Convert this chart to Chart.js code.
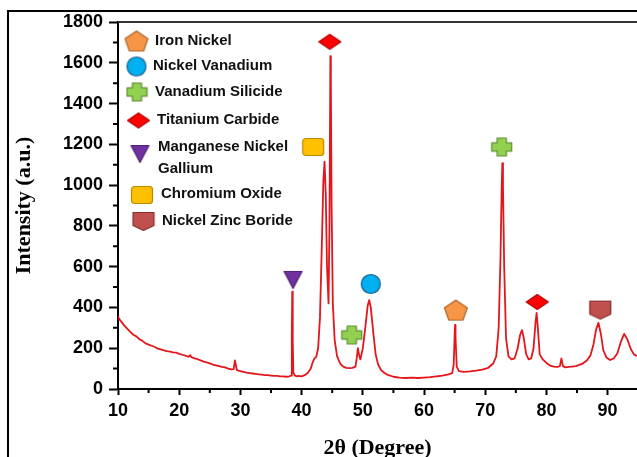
<!DOCTYPE html>
<html lang="en">
<head>
<meta charset="UTF-8">
<title>XRD pattern</title>
<script src="https://cdn.jsdelivr.net/npm/chart.js"></script>
<style>
  html, body { margin: 0; padding: 0; background: #fff; overflow: hidden; }
  #wrap { position: relative; width: 637px; height: 457px; }
  #frame { position: absolute; left: 7px; top: 10px; width: 640px; height: 460px;
           border-left: 2px solid #000; border-top: 2px solid #000; }
  #chart { position: absolute; left: 0; top: 0; }
</style>
</head>
<body>
<div id="wrap">
  <div id="frame"></div>
  <canvas id="chart" width="637" height="457"></canvas>
</div>
<script>
// 2theta positions (degrees) and intensities
const twoTheta = [10, 10.3, 10.6, 11, 11.5, 12, 12.5, 13, 13.5, 14, 14.5, 15, 15.5, 16, 16.5, 17, 17.5, 18, 18.5, 19, 19.5, 20,
  20.5, 21, 21.5, 21.8, 22, 22.5, 23, 23.5, 24, 24.5, 25, 25.5, 26, 26.5, 27, 27.5, 28, 28.5, 28.9, 29.1, 29.2, 29.4, 29.7,
  30, 30.5, 31, 31.5, 32, 32.5, 33, 33.5, 34, 34.5, 35, 35.5, 36, 36.5, 37, 37.5, 38, 38.3, 38.4, 38.47, 38.55, 38.65,
  38.9, 39.2, 39.5, 40, 40.5, 41, 41.5, 41.8, 42.1, 42.4, 42.7, 43, 43.3, 43.55, 43.75, 43.95, 44.15, 44.4, 44.55, 44.7,
  44.78, 44.9, 45.1, 45.4, 45.8, 46.3, 46.8, 47.3, 47.8, 48.3, 48.8, 49.0, 49.2, 49.4, 49.6, 50.0, 50.4, 50.8, 51.05,
  51.3, 51.7, 52.1, 52.5, 53, 53.5, 54, 55, 56, 57, 58, 59, 60, 61, 62, 63, 64, 64.6, 64.85, 65.0, 65.07, 65.15, 65.35,
  65.7, 66.5, 67.5, 68.5, 69.5, 70.5, 71.3, 71.8, 72.2, 72.5, 72.7, 72.8, 72.9, 73.1, 73.4, 73.8, 74.3, 74.8, 75.3,
  75.7, 76.0, 76.3, 76.7, 77.1, 77.5, 77.9, 78.2, 78.4, 78.6, 78.9, 79.4, 80, 80.6, 81.2, 81.8, 82.2, 82.45, 82.7,
  83.1, 83.6, 84.2, 84.8, 85.4, 86, 86.6, 87.2, 87.7, 88.1, 88.5, 88.9, 89.3, 89.8, 90.4, 91, 91.6, 92.2, 92.7, 93.2,
  93.8, 94.3, 94.8];
const intensity = [355, 340, 328, 312, 296, 280, 266, 258, 244, 236, 224, 218, 212, 206, 198, 194, 190, 186, 183, 180, 178, 172,
  168, 164, 158, 166, 156, 150, 146, 140, 134, 130, 126, 120, 116, 112, 108, 106, 100, 96, 98, 140, 128, 94, 90,
  88, 84, 80, 78, 76, 74, 72, 70, 68, 68, 66, 64, 64, 62, 62, 60, 62, 66, 260, 477, 240, 80,
  66, 62, 64, 62, 68, 78, 100, 130, 150, 158, 200, 350, 700, 1020, 1115, 950, 600, 420, 800, 1633,
  1500, 900, 420, 240, 160, 125, 110, 104, 102, 104, 110, 150, 200, 165, 145, 200, 300, 410, 436,
  400, 280, 170, 120, 92, 80, 70, 60, 56, 54, 56, 54, 56, 58, 62, 66, 72, 78, 120, 260, 314, 250, 110,
  88, 84, 86, 90, 95, 104, 125, 160, 300, 650, 1000, 1108, 1000, 600, 250, 160, 145, 150, 200,
  265, 289, 250, 170, 145, 150, 200, 320, 373, 300, 170, 145, 128, 115, 110, 108, 112, 150, 112,
  106, 108, 110, 112, 118, 126, 140, 165, 220, 290, 325, 270, 190, 155, 142, 150, 175, 235, 270, 245,
  195, 170, 162];

// phases (legend order)
const phaseNames = [['Iron Nickel'], ['Nickel Vanadium'], ['Vanadium Silicide'], ['Titanium Carbide'],
  ['Manganese Nickel', 'Gallium'], ['Chromium Oxide'], ['Nickel Zinc Boride']];

// peak markers: position and which phase
const peakX = [44.6, 41.9, 72.7, 38.6, 48.2, 51.3, 65.2, 78.5, 88.8];
const peakY = [1703, 1187, 1187, 535, 265, 515, 387, 427, 387];
const peakPhase = [3, 5, 2, 4, 2, 1, 0, 3, 6];

function makeMarker(kind, fill, stroke, w, h) {
  const c = document.createElement('canvas');
  c.width = w + 3; c.height = h + 3;
  const g = c.getContext('2d');
  g.translate(1.5, 1.5);
  g.fillStyle = fill; g.strokeStyle = stroke; g.lineWidth = 1.2; g.lineJoin = 'round';
  g.beginPath();
  if (kind === 'pentagon') {
    const r = h / 1.809;
    for (let k = 0; k < 5; k++) {
      const a = -Math.PI / 2 + k * 2 * Math.PI / 5;
      const px = w / 2 + (w / 1.902) * Math.cos(a), py = r + r * Math.sin(a);
      k ? g.lineTo(px, py) : g.moveTo(px, py);
    }
    g.closePath();
  } else if (kind === 'circle') {
    g.arc(w / 2, h / 2, Math.min(w, h) / 2, 0, Math.PI * 2);
  } else if (kind === 'cross') {
    const a = w * 0.27, b = h * 0.27;
    g.moveTo(a, 0); g.lineTo(w - a, 0); g.lineTo(w - a, b); g.lineTo(w, b); g.lineTo(w, h - b);
    g.lineTo(w - a, h - b); g.lineTo(w - a, h); g.lineTo(a, h); g.lineTo(a, h - b); g.lineTo(0, h - b);
    g.lineTo(0, b); g.lineTo(a, b); g.closePath();
  } else if (kind === 'diamond') {
    g.moveTo(w / 2, 0); g.lineTo(w, h / 2); g.lineTo(w / 2, h); g.lineTo(0, h / 2); g.closePath();
  } else if (kind === 'triangle') {
    g.moveTo(0, 0); g.lineTo(w, 0); g.lineTo(w / 2, h); g.closePath();
  } else if (kind === 'square') {
    g.roundRect(0, 0, w, h, 3);
  } else if (kind === 'shield') {
    g.moveTo(0, 0); g.lineTo(w, 0); g.lineTo(w, h * 0.72); g.lineTo(w / 2, h); g.lineTo(0, h * 0.72); g.closePath();
  }
  g.fill(); g.stroke();
  return c;
}

const markers = [
  makeMarker('pentagon', '#f79646', '#a8642c', 23, 20),
  makeMarker('circle', '#00b0f0', '#1d5c8a', 19, 19),
  makeMarker('cross', '#92d050', '#5e8f35', 20, 18),
  makeMarker('diamond', '#ff0000', '#b00000', 22, 15),
  makeMarker('triangle', '#7030a0', '#4f1f75', 18, 17),
  makeMarker('square', '#ffc000', '#b88a00', 21, 17),
  makeMarker('shield', '#c0504d', '#84302d', 21, 18)
];

// legend placement relative to the plot's top-left corner
const legendRows = [
  { mx: 18.5, my: 19, tx: 37, ty: [19] },
  { mx: 18.5, my: 44.5, tx: 35, ty: [44] },
  { mx: 19, my: 70, tx: 37, ty: [69.5] },
  { mx: 20.5, my: 98.5, tx: 39, ty: [98] },
  { mx: 22, my: 132, tx: 40, ty: [125, 146.5] },
  { mx: 24, my: 173, tx: 43, ty: [172] },
  { mx: 25.5, my: 199.5, tx: 44, ty: [199] }
];

const extras = {
  id: 'extras',
  afterDraw(chart) {
    const { ctx, chartArea: a, scales: { x, y } } = chart;
    ctx.save();
    ctx.strokeStyle = '#000';
    ctx.lineWidth = 2;
    ctx.beginPath();
    for (let v = 15; v < x.max; v += 10) {
      const px = x.getPixelForValue(v);
      ctx.moveTo(px, a.bottom); ctx.lineTo(px, a.bottom + 4);
    }
    for (let v = 100; v < y.max; v += 200) {
      const py = y.getPixelForValue(v);
      ctx.moveTo(a.left, py); ctx.lineTo(a.left - 5, py);
    }
    ctx.stroke();
    ctx.strokeStyle = '#333';
    ctx.beginPath(); ctx.moveTo(a.left, a.top); ctx.lineTo(a.right, a.top); ctx.stroke();

    // legend
    ctx.fillStyle = '#111';
    ctx.font = "bold 15px 'Liberation Sans', Arial, sans-serif";
    ctx.textBaseline = 'middle';
    ctx.textAlign = 'left';
    legendRows.forEach((r, i) => {
      const m = markers[i];
      ctx.drawImage(m, a.left + r.mx - m.width / 2, a.top + r.my - m.height / 2);
      phaseNames[i].forEach((t, j) => ctx.fillText(t, a.left + r.tx, a.top + r.ty[j]));
    });
    ctx.restore();
  }
};

const tickFont = { family: "'Liberation Sans', Arial, sans-serif", weight: 'bold', size: 18 };
const titleFont = { family: "'Liberation Serif', 'Times New Roman', serif", weight: 'bold', size: 22, lineHeight: 1 };

new Chart(document.getElementById('chart'), {
  type: 'scatter',
  data: {
    datasets: [{
      label: 'XRD',
      data: twoTheta.map((t, i) => ({ x: t, y: intensity[i] })),
      showLine: true,
      borderColor: '#e3161c',
      borderWidth: 1.8,
      pointRadius: 0,
      borderJoinStyle: 'round'
    }, {
      label: 'peaks',
      data: peakX.map((t, i) => ({ x: t, y: peakY[i] })),
      pointRadius: 10,
      pointStyle: ctx => markers[peakPhase[ctx.dataIndex]]
    }]
  },
  options: {
    responsive: false,
    animation: false,
    layout: { autoPadding: false, padding: { top: 22, left: 0, right: 0, bottom: 0 } },
    plugins: { legend: { display: false }, tooltip: { enabled: false } },
    scales: {
      x: {
        type: 'linear', min: 10, max: 94.8,
        ticks: { stepSize: 10, includeBounds: false, padding: 5, color: '#000', font: tickFont },
        grid: { drawOnChartArea: false, tickLength: 6, tickWidth: 2, tickColor: '#000' },
        border: { color: '#000', width: 2 },
        title: { display: true, text: '2θ (Degree)', color: '#000', font: titleFont, padding: { top: 0, bottom: -2 } },
        afterFit(s) { s.height = 68; s.paddingLeft = 0; s.paddingRight = 0; }
      },
      y: {
        min: 0, max: 1800,
        ticks: { stepSize: 200, padding: 6, color: '#000', font: tickFont, callback: v => String(v) },
        grid: { drawOnChartArea: false, tickLength: 9, tickWidth: 2, tickColor: '#000' },
        border: { color: '#000', width: 2 },
        title: { display: true, text: 'Intensity (a.u.)', color: '#000', font: titleFont, padding: { top: 13, bottom: 0 } },
        afterFit(s) { s.width = 118; s.paddingTop = 0; s.paddingBottom = 0; }
      }
    }
  },
  plugins: [extras]
});
</script>
</body>
</html>
